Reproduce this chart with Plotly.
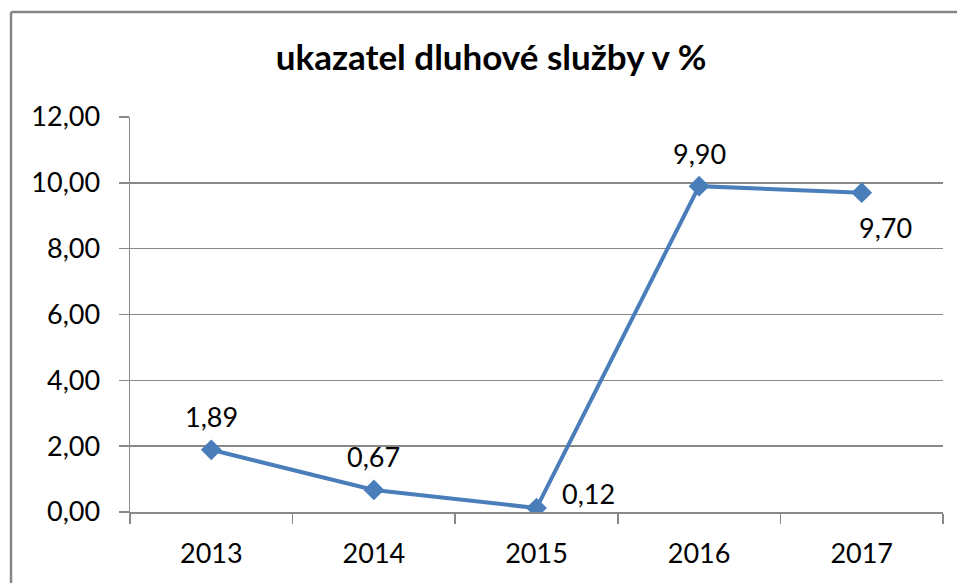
import plotly.graph_objects as go

years = ["2013", "2014", "2015", "2016", "2017"]
values = [1.89, 0.67, 0.12, 9.90, 9.70]
label_pos = ["above", "above", "right", "above", "below_right"]
title_text = "ukazatel dluhové služby v %"

W, H = 957, 583
ML, MR, MT, MB = 130, 14, 117, 71
FONT = "Lato, Carlito, Calibri, sans-serif"
LINE = "#4A7EBB"
GRID = "#898989"

fig = go.Figure()
fig.add_trace(go.Scatter(
    x=years, y=values, mode="lines+markers",
    line=dict(color=LINE, width=4),
    marker=dict(symbol="diamond", size=16, color=LINE),
    hoverinfo="skip", showlegend=False,
))

shifts = {"above": (0, 33), "right": (52, 15), "below_right": (24, -35)}
for i, (v, p) in enumerate(zip(values, label_pos)):
    dx, dy = shifts[p]
    fig.add_annotation(x=i, y=v, xref="x", yref="y",
                       text=f"{v:.2f}".replace(".", ","),
                       showarrow=False, xshift=dx, yshift=dy,
                       font=dict(family=FONT, size=27, color="#000000"))

pw = W - ML - MR
ph = H - MT - MB
# outer chart border (left and top edges visible)
fig.add_shape(type="line", xref="paper", yref="paper",
              x0=(11 - ML) / pw, x1=(11 - ML) / pw,
              y0=(H - MB - 12) / ph, y1=(H - MB - H - 5) / ph,
              line=dict(color="#868686", width=2.5))
fig.add_shape(type="line", xref="paper", yref="paper",
              x0=(11 - ML) / pw, x1=(W + 5 - ML) / pw,
              y0=(H - MB - 12) / ph, y1=(H - MB - 12) / ph,
              line=dict(color="#868686", width=2.5))

fig.update_layout(
    width=W, height=H, autosize=False,
    margin=dict(l=ML, r=MR, t=MT, b=MB),
    paper_bgcolor="white", plot_bgcolor="white",
    separators=", ",
    title=dict(text=f"<b>{title_text}</b>", x=491 / W, xanchor="center",
               xref="container", y=1 - 58 / H, yanchor="middle",
               yref="container",
               font=dict(family=FONT, size=35, color="#000000")),
    xaxis=dict(type="category", range=[-0.5, 4.5], showgrid=False,
               showline=True, linecolor=GRID, linewidth=1.5,
               ticks="outside", tickson="boundaries", ticklen=10,
               tickcolor=GRID, tickwidth=1.5, ticklabelstandoff=17,
               tickfont=dict(family=FONT, size=27, color="#000000"),
               zeroline=False, fixedrange=True),
    yaxis=dict(range=[0, 12], dtick=2, tickformat=".2f", showgrid=True,
               gridcolor=GRID, gridwidth=1.5, showline=True,
               linecolor=GRID, linewidth=1.5, ticks="outside", ticklen=10,
               tickcolor=GRID, tickwidth=1.5, ticklabelstandoff=13,
               tickfont=dict(family=FONT, size=27, color="#000000"),
               zeroline=False, fixedrange=True),
)

fig.write_html("out.html",
               config={"displayModeBar": False, "staticPlot": True},
               post_script="document.body.style.margin='0px';"
                           "document.body.style.overflow='hidden';")
